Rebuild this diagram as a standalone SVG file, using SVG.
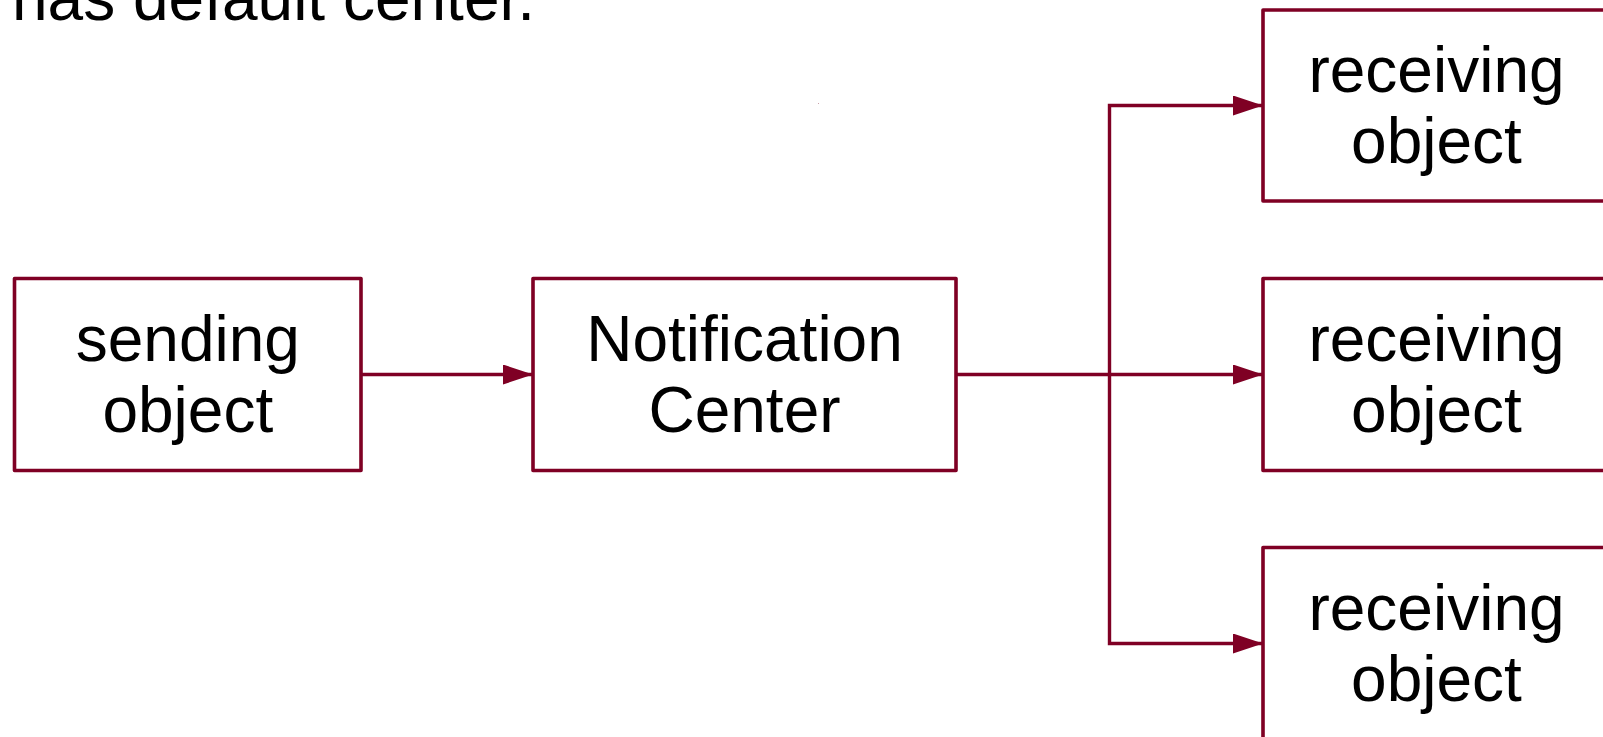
<svg xmlns="http://www.w3.org/2000/svg" width="1603" height="737" viewBox="0 0 1603 737">
<style>
.box{fill:#ffffff;stroke:#7f0024;stroke-width:3.6;stroke-linejoin:round}
.lbl{font-family:"Liberation Sans",Arial,sans-serif;font-size:64px;fill:#000000;text-anchor:middle}
.title{font-family:"Liberation Sans",Arial,sans-serif;font-size:64px;fill:#000000}
.conn{fill:none;stroke:#7f0024;stroke-width:3.4}
</style>
<defs>
<marker id="arrow" markerUnits="userSpaceOnUse" markerWidth="30" markerHeight="20" refX="30" refY="10" orient="auto" viewBox="0 0 30 20">
<path d="M0,0 L30,10 L0,20 Z" fill="#7f0024"/>
</marker>
</defs>
<rect width="1603" height="737" fill="#ffffff"/>
<text class="title" x="12" y="20">has default center.</text>
<rect x="818" y="103" width="1" height="1" fill="#c9a0aa"/>
<g id="connectors">
<path class="conn" d="M361,374.5 H533" marker-end="url(#arrow)"/>
<path class="conn" d="M956,374.5 H1263" marker-end="url(#arrow)" stroke-width="3.8"/>
<path class="conn" d="M1109.5,374.5 V105.5 H1263" marker-end="url(#arrow)"/>
<path class="conn" d="M1109.5,374.5 V643.5 H1263" marker-end="url(#arrow)"/>
</g>
<g id="sending">
<rect class="box" x="14.5" y="278.5" width="346.5" height="192"/>
<text class="lbl" x="187.8" y="360.6">sending</text>
<text class="lbl" x="187.8" y="432.3">object</text>
</g>
<g id="center">
<rect class="box" x="533" y="278.5" width="423" height="192"/>
<text class="lbl" x="744.5" y="360.6">Notification</text>
<text class="lbl" x="744.5" y="432.3">Center</text>
</g>
<g id="receiver1">
<rect class="box" x="1263" y="10" width="345" height="191"/>
<text class="lbl" x="1436.5" y="91.8">receiving</text>
<text class="lbl" x="1436.5" y="163.4">object</text>
</g>
<g id="receiver2">
<rect class="box" x="1263" y="278.5" width="345" height="192"/>
<text class="lbl" x="1436.5" y="360.6">receiving</text>
<text class="lbl" x="1436.5" y="432.3">object</text>
</g>
<g id="receiver3">
<rect class="box" x="1263" y="547.5" width="345" height="192"/>
<text class="lbl" x="1436.5" y="629.7">receiving</text>
<text class="lbl" x="1436.5" y="701.4">object</text>
</g>
</svg>
